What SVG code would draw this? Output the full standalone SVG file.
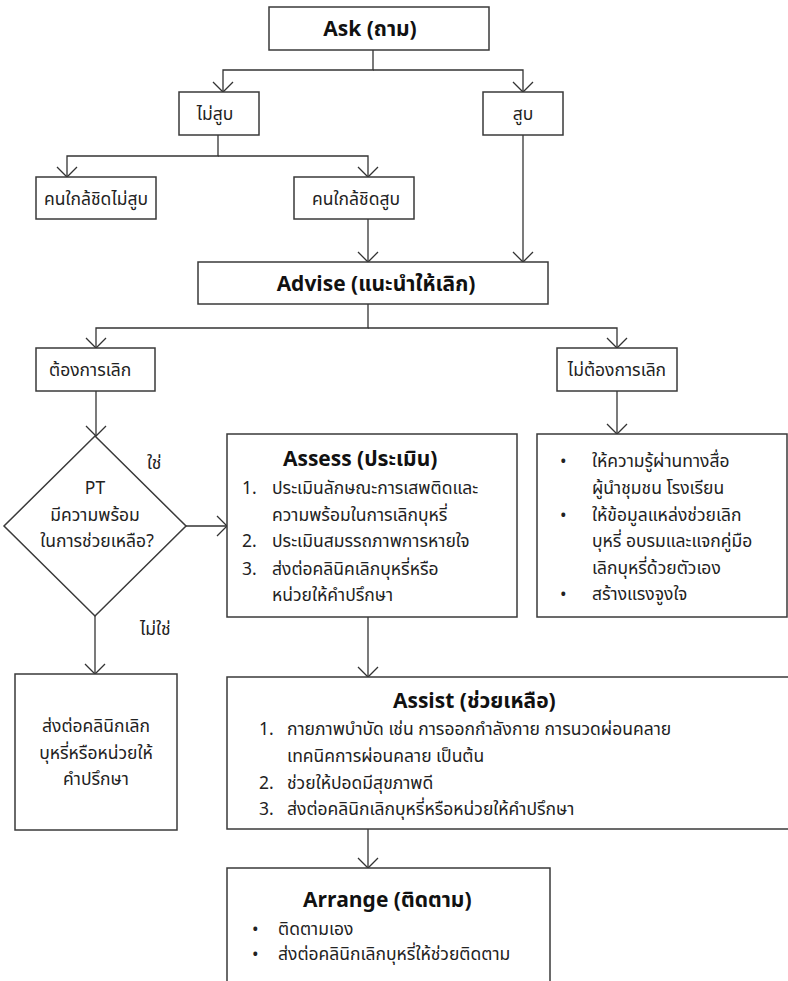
<svg xmlns="http://www.w3.org/2000/svg" width="788" height="981" viewBox="0 0 788 981">
<defs>
<marker id="arr" viewBox="0 0 12 22" markerWidth="12" markerHeight="22" refX="11" refY="11" orient="auto" markerUnits="userSpaceOnUse">
<path d="M1,1 L11,11 L1,21" fill="none" stroke="#333" stroke-width="1.3"/>
</marker>
<style>
.box{fill:#fff;stroke:#3a3a3a;stroke-width:1.5}
.t{font-family:"Noto Sans Thai","Noto Sans","DejaVu Sans",sans-serif;font-size:17.5px;fill:#222}
.b{font-family:"Noto Sans Thai","Noto Sans","DejaVu Sans",sans-serif;font-size:21px;font-weight:bold;fill:#111}
.c{text-anchor:middle}
.ln{fill:none;stroke:#333;stroke-width:1.3;marker-end:url(#arr)}
</style>
</defs>
<g id="connectors">
<path class="ln" d="M373,50 V70 H223 V92"/>
<path class="ln" d="M373,70 H523 V92"/>
<path class="ln" d="M218,135 V156 H67 V177"/>
<path class="ln" d="M218,156 H368 V177"/>
<path class="ln" d="M368,219 V262"/>
<path class="ln" d="M523,135 V262"/>
<path class="ln" d="M368,304 V328 H96 V348"/>
<path class="ln" d="M368,328 H617 V348"/>
<path class="ln" d="M96,391 V436"/>
<path class="ln" d="M185,526 H227"/>
<path class="ln" d="M617,391 V434"/>
<path class="ln" d="M95,616 V674"/>
<path class="ln" d="M368,617 V677"/>
<path class="ln" d="M368,829 V868"/>
</g>
<g id="ask">
<rect class="box" x="269" y="7" width="220" height="43"/>
<text class="b c" x="370" y="36">Ask (ถาม)</text>
</g>
<g id="no-smoke">
<rect class="box" x="179" y="92" width="80" height="43"/>
<text class="t c" x="215" y="120">ไม่สูบ</text>
</g>
<g id="smoke">
<rect class="box" x="483" y="92" width="80" height="43"/>
<text class="t c" x="523" y="120">สูบ</text>
</g>
<g id="close-no-smoke">
<rect class="box" x="36" y="177" width="120" height="42"/>
<text class="t c" x="96" y="205">คนใกล้ชิดไม่สูบ</text>
</g>
<g id="close-smoke">
<rect class="box" x="294" y="177" width="120" height="42"/>
<text class="t c" x="356" y="205">คนใกล้ชิดสูบ</text>
</g>
<g id="advise">
<rect class="box" x="198" y="262" width="350" height="42"/>
<text class="b c" x="376" y="291">Advise (แนะนำให้เลิก)</text>
</g>
<g id="want-quit">
<rect class="box" x="36" y="348" width="119" height="43"/>
<text class="t" x="49" y="376">ต้องการเลิก</text>
</g>
<g id="not-want-quit">
<rect class="box" x="557" y="348" width="120" height="43"/>
<text class="t c" x="617" y="376">ไม่ต้องการเลิก</text>
</g>
<g id="decision">
<polygon class="box" points="95,436 186,526 95,616 4,526"/>
<text class="t c" x="95" y="494">PT</text>
<text class="t c" x="95" y="521">มีความพร้อม</text>
<text class="t c" x="97" y="547">ในการช่วยเหลือ?</text>
<text class="t" x="147" y="469">ใช่</text>
<text class="t" x="140" y="635">ไม่ใช่</text>
</g>
<g id="assess">
<rect class="box" x="227" y="434" width="290" height="183"/>
<text class="b" x="283" y="466">Assess (ประเมิน)</text>
<text class="t" x="242" y="494">1.</text>
<text class="t" x="272" y="494">ประเมินลักษณะการเสพติดและ</text>
<text class="t" x="272" y="521">ความพร้อมในการเลิกบุหรี่</text>
<text class="t" x="242" y="547">2.</text>
<text class="t" x="272" y="547">ประเมินสมรรถภาพการหายใจ</text>
<text class="t" x="242" y="575">3.</text>
<text class="t" x="272" y="575">ส่งต่อคลินิคเลิกบุหรี่หรือ</text>
<text class="t" x="272" y="601">หน่วยให้คำปรึกษา</text>
</g>
<g id="no-quit-actions">
<rect class="box" x="537" y="434" width="250" height="183"/>
<text class="t" x="560" y="467">•</text>
<text class="t" x="592" y="467">ให้ความรู้ผ่านทางสื่อ</text>
<text class="t" x="592" y="494">ผู้นำชุมชน โรงเรียน</text>
<text class="t" x="560" y="521">•</text>
<text class="t" x="592" y="521">ให้ข้อมูลแหล่งช่วยเลิก</text>
<text class="t" x="592" y="547">บุหรี่ อบรมและแจกคู่มือ</text>
<text class="t" x="592" y="574">เลิกบุหรี่ด้วยตัวเอง</text>
<text class="t" x="560" y="600">•</text>
<text class="t" x="592" y="600">สร้างแรงจูงใจ</text>
</g>
<g id="refer">
<rect class="box" x="15" y="674" width="162" height="156"/>
<text class="t c" x="96" y="732">ส่งต่อคลินิกเลิก</text>
<text class="t c" x="96" y="759">บุหรี่หรือหน่วยให้</text>
<text class="t c" x="96" y="785">คำปรึกษา</text>
</g>
<g id="assist">
<rect class="box" x="227" y="677" width="570" height="152"/>
<text class="b" x="393" y="708">Assist (ช่วยเหลือ)</text>
<text class="t" x="259" y="735">1.</text>
<text class="t" x="287" y="735">กายภาพบำบัด เช่น การออกกำลังกาย การนวดผ่อนคลาย</text>
<text class="t" x="287" y="762">เทคนิคการผ่อนคลาย เป็นต้น</text>
<text class="t" x="259" y="789">2.</text>
<text class="t" x="287" y="789">ช่วยให้ปอดมีสุขภาพดี</text>
<text class="t" x="259" y="815">3.</text>
<text class="t" x="287" y="815">ส่งต่อคลินิกเลิกบุหรี่หรือหน่วยให้คำปรึกษา</text>
</g>
<g id="arrange">
<rect class="box" x="227" y="868" width="323" height="130"/>
<text class="b" x="303" y="907">Arrange (ติดตาม)</text>
<text class="t" x="252" y="935">•</text>
<text class="t" x="278" y="935">ติดตามเอง</text>
<text class="t" x="252" y="960">•</text>
<text class="t" x="278" y="960">ส่งต่อคลินิกเลิกบุหรี่ให้ช่วยติดตาม</text>
</g>
</svg>
